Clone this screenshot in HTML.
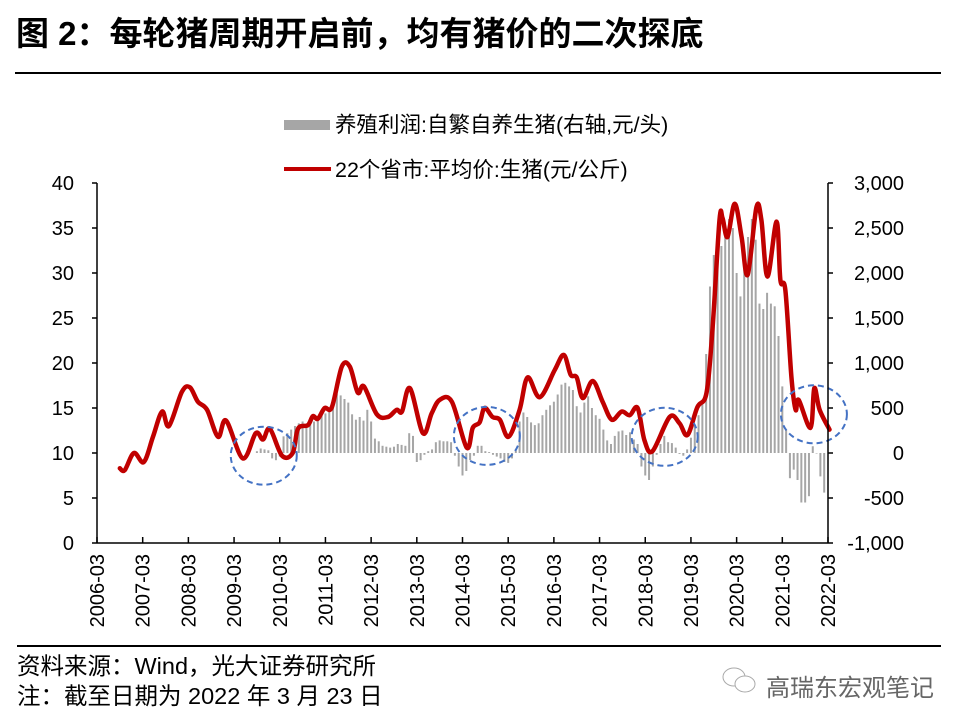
<!DOCTYPE html>
<html><head><meta charset="utf-8"><style>
body{margin:0;background:#fff;}
#root{position:relative;width:965px;height:725px;overflow:hidden;font-family:"Liberation Sans","Noto Sans CJK SC",sans-serif;color:#000;}
.t{position:absolute;white-space:nowrap;}
</style></head><body>
<div id="root">
<div class="t" style="left:16px;top:14px;font-size:33px;font-weight:bold;line-height:40px;">图 2：每轮猪周期开启前，均有猪价的二次探底</div>
<div style="position:absolute;left:15px;top:72px;width:926px;height:2px;background:#000"></div>
<svg id="chart" width="965" height="725" style="position:absolute;left:0;top:0"></svg>
<div style="position:absolute;left:17px;top:645px;width:924px;height:2px;background:#000"></div>
<div class="t" style="left:17px;top:647px;font-size:23.5px;">资料来源：Wind，光大证券研究所</div>
<div class="t" style="left:17px;top:677px;font-size:23.5px;">注：截至日期为 2022 年 3 月 23 日</div>
<div class="t" style="left:766px;top:668px;font-size:24px;color:#666;">高瑞东宏观笔记</div>
<svg width="40" height="32" style="position:absolute;left:720px;top:665px"><ellipse cx="14" cy="12" rx="11" ry="9" fill="none" stroke="#aaa"/><ellipse cx="25" cy="19" rx="10" ry="8" fill="#fff" stroke="#aaa"/></svg>
</div>
<script>
// price: month offset from 2006-03, value 元/公斤
const priceMonth=[6.0,7.3,9.7,12.3,14.7,17.1,18.9,22.3,24.4,26.5,28.9,31.8,33.9,38.3,41.7,43.6,45.4,48.6,51.4,52.8,55.4,56.7,58.0,59.8,61.7,64.3,66.4,68.5,70.1,73.5,76.4,78.7,80.1,82.2,85.6,87.9,90.0,93.2,97.1,98.7,100.5,101.8,103.9,105.8,108.1,111.0,113.1,116.3,120.2,122.6,124.4,126.0,127.6,130.2,132.8,135.2,137.8,139.9,142.0,143.8,145.9,150.4,153.0,155.1,157.7,160.1,161.7,163.5,164.3,165.6,167.5,169.3,170.9,173.2,174.5,176.1,178.5,179.5,180.8,182.4,183.5,184.3,187.4,188.4,189.8,192.4];
const priceValue=[8.3,8.1,10.0,9.0,11.8,14.6,13.0,16.8,17.3,15.7,14.8,11.8,13.6,9.4,12.2,11.5,12.7,9.7,10.0,12.7,13.1,14.1,13.8,15.0,15.1,19.6,19.6,16.7,17.4,14.3,14.0,14.8,14.6,17.2,12.2,14.4,15.9,15.7,10.6,12.8,13.4,15.0,14.0,13.7,11.8,14.8,18.4,16.2,19.2,20.9,18.7,18.4,16.1,18.0,15.7,13.7,14.6,14.2,15.0,11.4,10.2,14.0,13.3,12.0,15.1,16.7,24.0,35.9,36.1,34.0,37.7,34.0,29.8,37.3,35.9,29.6,35.7,29.2,28.1,18.4,14.8,15.9,12.8,17.2,14.8,12.6];
// profit: monthly from 2009-09 (offset 42), 元/头
const profitStart=42;
const profitValue=[20,50,40,30,
-60,-80,-40,185,220,260,300,330,350,300,330,350,
400,420,440,500,560,660,640,600,560,430,370,400,
360,480,350,160,130,80,70,60,70,100,90,80,
220,190,-100,-80,-20,20,40,120,140,130,130,120,
-30,-150,-250,-200,-80,-30,80,80,20,10,-20,-40,
-60,-100,-110,-60,30,350,450,400,340,310,330,420,
480,530,570,650,760,780,740,700,520,450,560,630,
500,420,380,260,140,100,190,240,250,200,230,150,
100,-150,-250,-300,-150,-20,100,190,120,110,60,-10,
-30,40,170,300,420,590,1100,1850,2200,2370,2300,2400,
2600,2500,2000,1740,2070,2400,2600,2370,1660,1600,1780,1660,
1630,1300,740,260,-280,-185,-300,-550,-550,-480,75,0,
-260,-440];
const leftTicks=[0,5,10,15,20,25,30,35,40];
const rightTicks=["-1,000","-500","0","500","1,000","1,500","2,000","2,500","3,000"];
const rightTickValues=[-1000,-500,0,500,1000,1500,2000,2500,3000];
const xLabels=["2006-03","2007-03","2008-03","2009-03","2010-03","2011-03","2012-03","2013-03","2014-03","2015-03","2016-03","2017-03","2018-03","2019-03","2020-03","2021-03","2022-03"];
const circles=[[43.8,9.7],[102.4,11.9],[149.1,11.8],[188.3,14.3]];

const L=97,R=828,T=183,B=543;
const xM=m=>L+m*(R-L)/192;
const yL=v=>B-(v/40)*(B-T);
const yR=v=>B-((v+1000)/4000)*(B-T);
const svg=document.getElementById('chart');
const NS='http://www.w3.org/2000/svg';
function mk(tag,attrs,parent){const e=document.createElementNS(NS,tag);for(const k in attrs)e.setAttribute(k,attrs[k]);(parent||svg).appendChild(e);return e;}

profitValue.forEach((v,i)=>{
  const x=xM(profitStart+i);const y0=yR(0),y1=yR(v);
  const r=mk('rect',{x:x-1,y:Math.min(y0,y1),width:2,height:Math.max(0.5,Math.abs(y1-y0)),fill:'#a6a6a6'});
  
  
});
const pts=priceMonth.map((m,i)=>[xM(m),yL(priceValue[i])]);
let d='M'+pts[0][0]+','+pts[0][1];
for(let i=0;i<pts.length-1;i++){const p0=pts[Math.max(0,i-1)],p1=pts[i],p2=pts[i+1],p3=pts[Math.min(pts.length-1,i+2)];
 d+=' C'+(p1[0]+(p2[0]-p0[0])/6)+','+(p1[1]+(p2[1]-p0[1])/6)+' '+(p2[0]-(p3[0]-p1[0])/6)+','+(p2[1]-(p3[1]-p1[1])/6)+' '+p2[0]+','+p2[1];}
const line=mk('path',{d:d,fill:'none',stroke:'#c00000','stroke-width':4.5,'stroke-linejoin':'round','stroke-linecap':'round'});


circles.forEach(c=>{const e=mk('ellipse',{cx:xM(c[0]),cy:yL(c[1]),rx:33,ry:29,fill:'none',stroke:'#4472c4','stroke-width':2,'stroke-dasharray':'6,4'});
 
 });
const ax=mk('g',{stroke:'#000','stroke-width':1.5});


mk('line',{x1:L,y1:T,x2:L,y2:B},ax);mk('line',{x1:R,y1:T,x2:R,y2:B},ax);mk('line',{x1:L,y1:B,x2:R,y2:B},ax);
leftTicks.forEach(v=>{mk('line',{x1:L-5,y1:yL(v),x2:L,y2:yL(v)},ax);
 const t=mk('text',{x:74,y:yL(v)+7,'text-anchor':'end','font-size':20,'font-family':'Liberation Sans, sans-serif'});t.textContent=v;
 
 });
rightTickValues.forEach((v,i)=>{mk('line',{x1:R,y1:yR(v),x2:R+5,y2:yR(v)},ax);
 const t=mk('text',{x:904,y:yR(v)+7,'text-anchor':'end','font-size':20,'font-family':'Liberation Sans, sans-serif'});t.textContent=rightTicks[i];
 
 });
xLabels.forEach((s,i)=>{const x=xM(i*12);mk('line',{x1:x,y1:B,x2:x,y2:B-6},ax);
 const t=mk('text',{x:0,y:0,'text-anchor':'end','font-size':20,'font-family':'Liberation Sans, sans-serif',transform:'translate('+(x+7)+',554) rotate(-90)'});t.textContent=s;
 
 });
const lg=mk('g',{});


mk('rect',{x:284,y:120,width:46,height:10,fill:'#a6a6a6'},lg);
let t1=mk('text',{x:335,y:132,'font-size':21.5,'font-family':'Liberation Sans, Noto Sans CJK SC, sans-serif'},lg);t1.textContent='养殖利润:自繁自养生猪(右轴,元/头)';


mk('line',{x1:284,y1:169,x2:331,y2:169,stroke:'#c00000','stroke-width':4},lg);
let t2=mk('text',{x:335,y:177,'font-size':21.5,'font-family':'Liberation Sans, Noto Sans CJK SC, sans-serif'},lg);t2.textContent='22个省市:平均价:生猪(元/公斤)';


</script>
</body></html>
